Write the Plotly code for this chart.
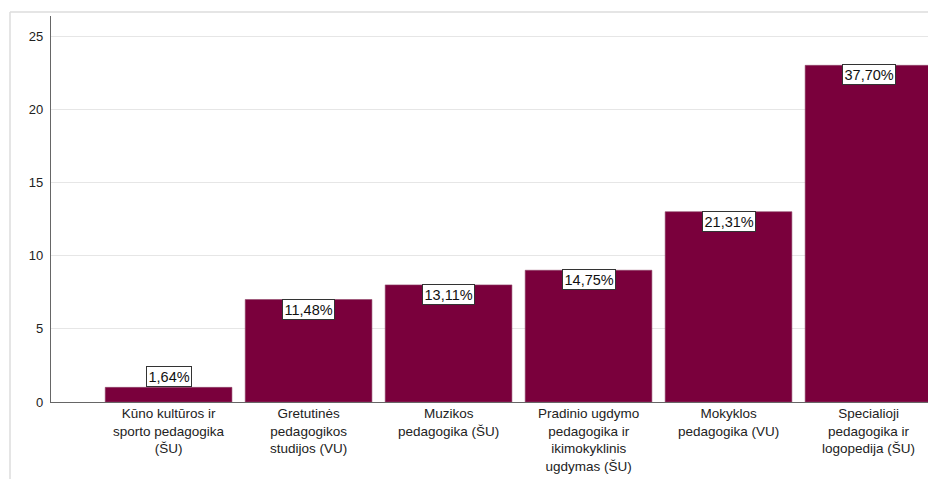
import plotly.graph_objects as go

categories = [
    "Kūno kultūros ir<br>sporto pedagogika<br>(ŠU)",
    "Gretutinės<br>pedagogikos<br>studijos (VU)",
    "Muzikos<br>pedagogika (ŠU)",
    "Pradinio ugdymo<br>pedagogika ir<br>ikimokyklinis<br>ugdymas (ŠU)",
    "Mokyklos<br>pedagogika (VU)",
    "Specialioji<br>pedagogika ir<br>logopedija (ŠU)",
]
counts = [1, 7, 8, 9, 13, 23]
percent_labels = ["1,64%", "11,48%", "13,11%", "14,75%", "21,31%", "37,70%"]
y_ticks = [0, 5, 10, 15, 20, 25]

FONT = "Liberation Sans, Arial, sans-serif"
OFF = 8  # default body margin of the html page
W, H = 936 - OFF, 479 - OFF
# plot area in screen pixels: x 51..935, y 16..402
SX0, SX1, SY0, SY1 = 51, 935, 16, 402
L, T = SX0 - OFF, SY0 - OFF
R = W - (SX1 - OFF)
B = H - (SY1 - OFF)
pw, ph = SX1 - SX0, SY1 - SY0

def px(sx):
    return (sx - SX0) / pw

def py(sy):
    return (SY1 - sy) / ph

fig = go.Figure()
fig.add_trace(go.Bar(
    x=list(range(len(categories))), y=counts,
    marker=dict(color="#7a003c", line=dict(color="#8e4468", width=0.6)),
    width=0.905, hoverinfo="skip",
))

for i, (c, lab) in enumerate(zip(counts, percent_labels)):
    inside = c >= 3
    fig.add_annotation(
        x=i, y=c, text=lab, showarrow=False,
        yanchor="top" if inside else "bottom",
        yshift=1 if inside else 0,
        font=dict(family=FONT, size=14.5, color="#111"),
        bgcolor="white", bordercolor="#333", borderwidth=1, borderpad=1.5,
    )

# category labels
for i, cat in enumerate(categories):
    fig.add_annotation(
        x=i, xref="x", y=py(404), yref="paper",
        text=cat, showarrow=False, yanchor="top", xanchor="center",
        align="center",
        font=dict(family=FONT, size=13.5, color="#222"),
    )

# outer frame
frame = "#dcdcdc"
fig.add_shape(type="line", xref="paper", yref="paper",
              x0=px(10), x1=px(936), y0=py(12), y1=py(12),
              line=dict(color=frame, width=1.5))
fig.add_shape(type="line", xref="paper", yref="paper",
              x0=px(10), x1=px(10), y0=py(12), y1=py(479),
              line=dict(color=frame, width=1.5))

fig.update_layout(
    width=W, height=H,
    margin=dict(l=L, r=R, t=T, b=B, pad=0),
    paper_bgcolor="white", plot_bgcolor="white",
    showlegend=False,
    font=dict(family=FONT, size=13, color="#222"),
    xaxis=dict(
        range=[-0.84, 5.475], tickmode="array",
        tickvals=list(range(len(categories))), showticklabels=False,
        showgrid=False, zeroline=False, showline=True,
        linecolor="#666", linewidth=1.2, ticks="",
    ),
    yaxis=dict(
        range=[0, 26.37], tickmode="array", tickvals=y_ticks,
        showgrid=True, gridcolor="#e6e6e6", gridwidth=1,
        zeroline=False, showline=True, linecolor="#666", linewidth=1.2,
        ticks="", tickfont=dict(family=FONT, size=13, color="#222"),
        ticklabelstandoff=4,
    ),
)

fig.write_html("out.html")
